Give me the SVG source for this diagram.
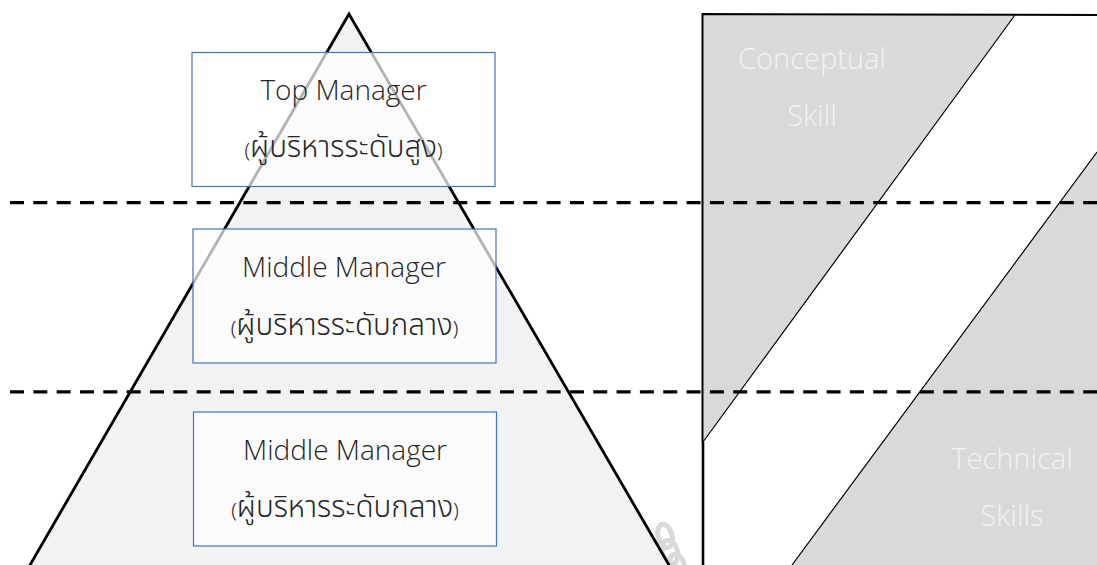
<svg xmlns="http://www.w3.org/2000/svg" width="1097" height="565" viewBox="0 0 1097 565">
<style>
.box{fill:#fff;fill-opacity:.7;stroke:#4472c4;stroke-width:1.2}
.en{font-family:"Open Sans","Noto Sans",sans-serif;font-weight:300;font-size:28px;fill:#262626;text-anchor:middle}
.th{font-family:"Noto Sans","Noto Sans Thai","DejaVu Sans",sans-serif;font-weight:300;font-size:29.600px;fill:#262626;text-anchor:middle}
.p{font-size:20px}
.sk{font-family:"Open Sans","Noto Sans",sans-serif;font-weight:300;font-size:29px;fill:#f2f2f2;text-anchor:middle}
.dash{stroke:#000;stroke-width:3.3;stroke-dasharray:14 9.33;fill:none}
</style>
<rect width="1097" height="565" fill="#fff"/>
<g id="chain" fill="none" stroke="#d9d9d9" stroke-width="5">
<ellipse cx="665" cy="536" rx="7" ry="12" transform="rotate(-15 665 536)"/>
<ellipse cx="670" cy="552" rx="7.500" ry="12" transform="rotate(-15 670 552)"/>
<ellipse cx="677" cy="566" rx="7.500" ry="12" transform="rotate(-15 677 566)"/>
</g>
<g id="pyramid"><path d="M349 14 L24.200 575 L674.800 575 Z" fill="#f2f2f2" stroke="#000" stroke-width="2.800"/></g>
<g id="skills">
<path d="M703 15 H1015 L703 442 Z" fill="#d9d9d9"/>
<path d="M1097 152 L792 565 H1097 Z" fill="#d9d9d9"/>
<path d="M1015 15 L703 442 M1097 152 L792 565" stroke="#000" stroke-width="1.200" fill="none"/>
<path d="M702.500 442 V14 L1097 15" stroke="#000" stroke-width="2" fill="none"/>
<path d="M703 442 V565" stroke="#000" stroke-width="2.600" fill="none"/>
<text class="sk" x="812" y="69">Conceptual</text>
<text class="sk" x="812" y="126">Skill</text>
<text class="sk" x="1012" y="469">Technical</text>
<text class="sk" x="1012" y="526">Skills</text>
</g>
<g id="top-manager">
<rect class="box" x="192" y="52.500" width="303" height="134"/>
<text class="en" x="343.500" y="100">Top Manager</text>
<text class="th" x="343.500" y="157"><tspan class="p">(</tspan>ผู้บริหารระดับสูง<tspan class="p">)</tspan></text>
</g>
<g id="middle-manager-1">
<rect class="box" x="193" y="229" width="303" height="134"/>
<text class="en" x="344" y="277">Middle Manager</text>
<text class="th" x="344.500" y="335"><tspan class="p">(</tspan>ผู้บริหารระดับกลาง<tspan class="p">)</tspan></text>
</g>
<g id="middle-manager-2">
<rect class="box" x="193.500" y="412" width="303" height="134"/>
<text class="en" x="345" y="460">Middle Manager</text>
<text class="th" x="345" y="517"><tspan class="p">(</tspan>ผู้บริหารระดับกลาง<tspan class="p">)</tspan></text>
</g>
<g id="connectors">
<path class="dash" d="M10 202.700 H1097"/>
<path class="dash" d="M10 391.900 H1097"/>
</g>
</svg>
